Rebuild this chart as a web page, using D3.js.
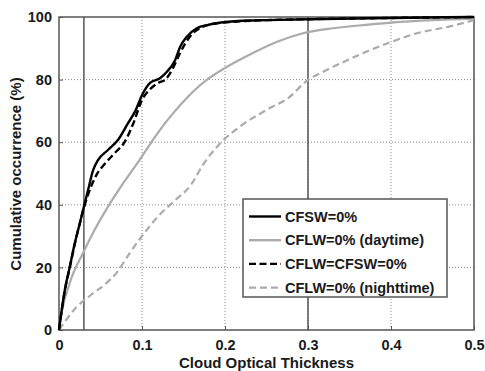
<!DOCTYPE html>
<html>
<head>
<meta charset="utf-8">
<script src="https://cdn.jsdelivr.net/npm/d3@7"></script>
<style>
  body { margin: 0; background: #fff; }
  svg text { font-family: "Liberation Sans", Arial, sans-serif; fill: #1a1a1a; }
</style>
</head>
<body>
<figure id="cdf" style="margin:0"></figure>
<script>
// cumulative occurrence curves
const xCFSW = [0, 0.001, 0.007, 0.013, 0.019, 0.025, 0.031, 0.035, 0.041, 0.047, 0.059, 0.071, 0.083, 0.092, 0.1, 0.11, 0.122, 0.13, 0.14, 0.146, 0.154, 0.166, 0.18, 0.19, 0.216, 0.25, 0.3, 0.4, 0.5];
const yCFSW = [0, 2, 12.8, 20.2, 27.7, 34, 40.5, 44.7, 51, 54.3, 57.5, 60.7, 66, 70, 75, 79, 80.5, 82.5, 86.3, 90.5, 93.7, 96.4, 97.5, 98, 98.7, 99, 99.3, 99.7, 100];

const xDay = [0, 0.001, 0.013, 0.029, 0.043, 0.059, 0.075, 0.087, 0.1, 0.11, 0.12, 0.13, 0.14, 0.15, 0.162, 0.18, 0.2, 0.23, 0.262, 0.294, 0.33, 0.37, 0.4, 0.45, 0.5];
const yDay = [0, 2, 15, 24.6, 32, 39.4, 46, 50.5, 55.5, 59.5, 63.3, 66.8, 70, 73, 76.3, 80.3, 83.7, 88, 92, 94.8, 96.4, 97.5, 98.2, 99, 99.5];

const xBoth = [0, 0.001, 0.007, 0.013, 0.019, 0.025, 0.031, 0.036, 0.045, 0.055, 0.067, 0.079, 0.0895, 0.1, 0.11, 0.12, 0.128, 0.137, 0.145, 0.152, 0.16, 0.17, 0.18, 0.19, 0.21, 0.25, 0.3, 0.4, 0.5];
const yBoth = [0, 2, 12.5, 20, 27.5, 34, 40, 44, 49.5, 53, 56.5, 60, 66, 73.5, 77, 79, 80, 83.5, 88, 91.5, 94.5, 96.5, 97.5, 98, 98.5, 99, 99.3, 99.7, 100];

const xNight = [0, 0.02, 0.04, 0.055, 0.07, 0.085, 0.1, 0.12, 0.14, 0.158, 0.174, 0.194, 0.218, 0.25, 0.278, 0.298, 0.322, 0.35, 0.371, 0.4, 0.431, 0.471, 0.5];
const yNight = [0, 7, 11.5, 14.5, 18.5, 24.5, 30, 36.5, 41.5, 46, 53, 59.6, 65, 70.3, 74.5, 79.5, 83, 86.5, 89, 92, 94.8, 97, 99];

const seriesNames = ["CFSW=0%", "CFLW=0% (daytime)", "CFLW=CFSW=0%", "CFLW=0% (nighttime)"];
const xTicks = [0, 0.1, 0.2, 0.3, 0.4, 0.5];
const yTicks = [0, 20, 40, 60, 80, 100];
const markLines = [0.03, 0.3];

const W = 485, H = 371;
const margin = { top: 17, right: 11, bottom: 41, left: 59 };
const width = W - margin.left - margin.right;
const height = H - margin.top - margin.bottom;

const svg = d3.select("figure#cdf")
  .append("svg")
  .attr("width", W)
  .attr("height", H)
  .append("g")
  .attr("transform", "translate(" + margin.left + "," + margin.top + ")");

const x = d3.scaleLinear().domain([0, 0.5]).range([0, width]);
const y = d3.scaleLinear().domain([0, 100]).range([height, 0]);

// dotted grid
svg.append("g")
  .selectAll("line.gx")
  .data(xTicks.slice(1, -1))
  .enter()
  .append("line")
  .attr("x1", d => x(d)).attr("x2", d => x(d))
  .attr("y1", 0).attr("y2", height)
  .attr("stroke", "#8a8a8a").attr("stroke-width", 1)
  .attr("stroke-dasharray", "1,2");
svg.append("g")
  .selectAll("line.gy")
  .data(yTicks.slice(1, -1))
  .enter()
  .append("line")
  .attr("x1", 0).attr("x2", width)
  .attr("y1", d => y(d)).attr("y2", d => y(d))
  .attr("stroke", "#8a8a8a").attr("stroke-width", 1)
  .attr("stroke-dasharray", "1,2");

// solid reference lines
svg.append("g")
  .selectAll("line")
  .data(markLines)
  .enter()
  .append("line")
  .attr("x1", d => x(d)).attr("x2", d => x(d))
  .attr("y1", 0).attr("y2", height)
  .attr("stroke", "#555").attr("stroke-width", 1.5);

// axes
const xAxis = svg.append("g")
  .attr("transform", "translate(0," + height + ")")
  .call(d3.axisBottom(x).tickValues(xTicks).tickFormat(d3.format("")).tickSize(-4).tickPadding(10));
const yAxis = svg.append("g")
  .call(d3.axisLeft(y).tickValues(yTicks).tickSize(-4).tickPadding(7));
[xAxis, yAxis].forEach(a => {
  a.select(".domain").remove();
  a.selectAll("line").attr("stroke", "#555");
  a.selectAll("text").attr("font-size", 14.5).attr("font-weight", "bold")
    .attr("font-family", "Liberation Sans, Arial, sans-serif").attr("fill", "#1a1a1a");
});

// frame
svg.append("rect")
  .attr("width", width).attr("height", height)
  .attr("fill", "none").attr("stroke", "#555").attr("stroke-width", 1.5);

// curves
const line = d3.line().x(d => x(d[0])).y(d => y(d[1])).curve(d3.curveMonotoneX);
const curves = [
  { xs: xDay, ys: yDay, color: "#ababab", dash: null, w: 2.2 },
  { xs: xNight, ys: yNight, color: "#ababab", dash: "7,4", w: 2.2 },
  { xs: xCFSW, ys: yCFSW, color: "#000", dash: null, w: 2.4 },
  { xs: xBoth, ys: yBoth, color: "#000", dash: "7,3.5", w: 2.4 }
];
svg.append("g")
  .selectAll("path")
  .data(curves)
  .enter()
  .append("path")
  .attr("d", c => line(c.xs.map((v, i) => [v, c.ys[i]])))
  .attr("fill", "none")
  .attr("stroke", c => c.color)
  .attr("stroke-width", c => c.w)
  .attr("stroke-dasharray", c => c.dash);

// legend
const legendStyle = [
  { color: "#000", dash: null },
  { color: "#ababab", dash: null },
  { color: "#000", dash: "7,3.5" },
  { color: "#ababab", dash: "7,4" }
];
const lg = svg.append("g").attr("transform", "translate(" + (243 - margin.left) + "," + (199 - margin.top) + ")");
lg.append("rect")
  .attr("width", 204).attr("height", 98)
  .attr("fill", "#fff").attr("stroke", "#555").attr("stroke-width", 1.5);
const item = lg.selectAll("g.item")
  .data(seriesNames)
  .enter()
  .append("g")
  .attr("transform", (d, i) => "translate(0," + (17.5 + i * 23.7) + ")");
item.append("line")
  .attr("x1", 6).attr("x2", 38)
  .attr("stroke", (d, i) => legendStyle[i].color)
  .attr("stroke-width", 2.4)
  .attr("stroke-dasharray", (d, i) => legendStyle[i].dash);
item.append("text")
  .attr("x", 42).attr("dy", "0.36em")
  .attr("font-size", 14.5).attr("font-weight", "bold")
  .text(d => d);

// axis titles
svg.append("text")
  .attr("x", width / 2).attr("y", height + 38)
  .attr("text-anchor", "middle")
  .attr("font-size", 15).attr("font-weight", "bold")
  .text("Cloud Optical Thickness");
svg.append("text")
  .attr("transform", "rotate(-90)")
  .attr("x", -(174 - margin.top)).attr("y", 21 - margin.left)
  .attr("text-anchor", "middle")
  .attr("font-size", 15).attr("font-weight", "bold")
  .text("Cumulative occurrence (%)");
</script>
</body>
</html>
